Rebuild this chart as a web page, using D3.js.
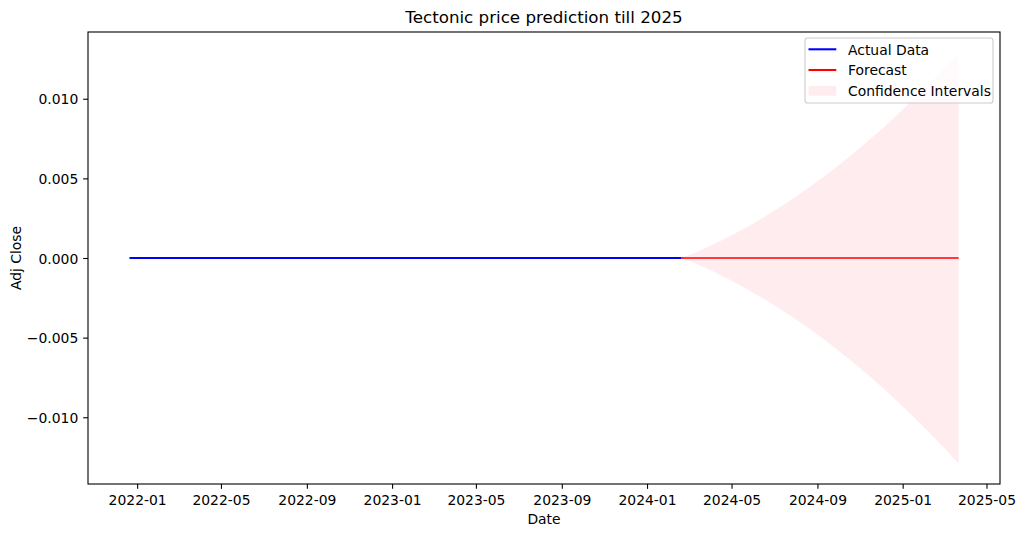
<!DOCTYPE html>
<html>
<head>
<meta charset="utf-8">
<script src="https://cdn.jsdelivr.net/npm/d3@7"></script>
<style>
  html, body { margin: 0; padding: 0; background: #fff; }
  svg { display: block; font-family: "DejaVu Sans", sans-serif; }
</style>
</head>
<body>
<svg id="chart" width="1024" height="536"></svg>
<script>
// ---- data ----
const actualDates = ["2021-12-21", "2022-03-01", "2022-06-01", "2022-09-01", "2022-12-01",
  "2023-03-01", "2023-06-01", "2023-09-01", "2023-12-01", "2024-02-19"];
const actualValues = [0, 0, 0, 0, 0, 0, 0, 0, 0, 0];

const forecastDates = ["2024-02-19", "2024-03-19", "2024-04-19", "2024-05-19", "2024-06-19",
  "2024-07-19", "2024-08-19", "2024-09-19", "2024-10-19", "2024-11-19", "2024-12-19",
  "2025-01-19", "2025-02-19", "2025-03-22"];
const forecastValues = [0, 0, 0, 0, 0, 0, 0, 0, 0, 0, 0, 0, 0, 0];
const upperBound = [0, 0.00051, 0.00116, 0.00185, 0.00264, 0.00347, 0.0044, 0.0054,
  0.00645, 0.00759, 0.00878, 0.01008, 0.01145, 0.0129];
const lowerBound = [0, -0.00051, -0.00116, -0.00185, -0.00264, -0.00347, -0.0044, -0.0054,
  -0.00645, -0.00759, -0.00878, -0.01008, -0.01145, -0.0129];

const xTickLabels = ["2022-01", "2022-05", "2022-09", "2023-01", "2023-05", "2023-09",
  "2024-01", "2024-05", "2024-09", "2025-01", "2025-05"];
const yTicks = [-0.010, -0.005, 0.000, 0.005, 0.010];

const titleText = "Tectonic price prediction till 2025";
const xLabel = "Date";
const yLabel = "Adj Close";
const legendLabels = ["Actual Data", "Forecast", "Confidence Intervals"];

// ---- layout ----
const svg = d3.select("#chart");
const m = { left: 88, right: 1000, top: 32, bottom: 484 };
const parse = d3.utcParse("%Y-%m-%d");
const parseM = d3.utcParse("%Y-%m");

const actual = actualDates.map((d, i) => ({ date: parse(d), v: actualValues[i] }));
const forecast = forecastDates.map((d, i) => ({
  date: parse(d), v: forecastValues[i], lo: lowerBound[i], hi: upperBound[i]
}));

const allDates = actual.map(d => d.date).concat(forecast.map(d => d.date));
const [x0, x1] = d3.extent(allDates);
const xpad = (x1 - x0) * 0.05;
const x = d3.scaleUtc()
  .domain([new Date(+x0 - xpad), new Date(+x1 + xpad)])
  .range([m.left, m.right]);

const yMin = d3.min(lowerBound.concat(actualValues, forecastValues));
const yMax = d3.max(upperBound.concat(actualValues, forecastValues));
const ypad = (yMax - yMin) * 0.05;
const y = d3.scaleLinear()
  .domain([yMin - ypad, yMax + ypad])
  .range([m.bottom, m.top]);

const fontSize = 13.9;

// ---- marks ----
const line = d3.line().x(d => x(d.date)).y(d => y(d.v));

const plot = svg.append("g");
plot.append("path").datum(actual)
  .attr("d", line).attr("fill", "none")
  .attr("stroke", "#0000ff").attr("stroke-width", 2.08);
plot.append("path").datum(forecast)
  .attr("d", line).attr("fill", "none")
  .attr("stroke", "#ff0000").attr("stroke-width", 2.08);

const area = d3.area().curve(d3.curveMonotoneX)
  .x(d => x(d.date)).y0(d => y(d.lo)).y1(d => y(d.hi));
plot.append("path").datum(forecast)
  .attr("d", area).attr("fill", "pink").attr("fill-opacity", 0.3);

// ---- axes ----
const xAxis = d3.axisBottom(x)
  .tickValues(xTickLabels.map(parseM))
  .tickFormat(d3.utcFormat("%Y-%m"))
  .tickSizeInner(4.86).tickSizeOuter(0).tickPadding(4.9);
const gx = svg.append("g").attr("transform", `translate(0,${m.bottom})`).call(xAxis);

const yFmt = v => d3.format(".3f")(v).replace("-", "\u2212");
const yAxis = d3.axisLeft(y)
  .tickValues(yTicks)
  .tickFormat(yFmt)
  .tickSizeInner(4.86).tickSizeOuter(0).tickPadding(4.9);
const gy = svg.append("g").attr("transform", `translate(${m.left},0)`).call(yAxis);

[gx, gy].forEach(g => {
  g.select(".domain").remove();
  g.selectAll(".tick line").attr("stroke", "#000").attr("stroke-width", 1.1);
  g.selectAll(".tick text").attr("fill", "#000")
    .style("font-family", "DejaVu Sans").style("font-size", fontSize + "px");
});
gx.selectAll(".tick text").attr("dy", null).attr("y", 0)
  .attr("transform", "translate(0,20.6)");
gy.selectAll(".tick text").attr("dy", "0.36em");

// frame
svg.append("rect")
  .attr("x", m.left).attr("y", m.top)
  .attr("width", m.right - m.left).attr("height", m.bottom - m.top)
  .attr("fill", "none").attr("stroke", "#000").attr("stroke-width", 1.1);

// ---- labels ----
svg.append("text")
  .attr("x", (m.left + m.right) / 2).attr("y", 22.7)
  .attr("text-anchor", "middle")
  .style("font-size", "16.7px").attr("fill", "#000")
  .text(titleText);

svg.append("text")
  .attr("x", (m.left + m.right) / 2).attr("y", 524)
  .attr("text-anchor", "middle")
  .style("font-size", fontSize + "px").attr("fill", "#000")
  .text(xLabel);

svg.append("text")
  .attr("transform", `translate(20.5,${(m.top + m.bottom) / 2}) rotate(-90)`)
  .attr("text-anchor", "middle")
  .style("font-size", fontSize + "px").attr("fill", "#000")
  .text(yLabel);

// ---- legend ----
const lg = svg.append("g");
lg.append("rect")
  .attr("x", 805).attr("y", 38).attr("width", 188).attr("height", 65)
  .attr("rx", 2.8).attr("ry", 2.8)
  .attr("fill", "#fff").attr("fill-opacity", 0.8)
  .attr("stroke", "#cccccc").attr("stroke-width", 1.1);

const rows = [
  { type: "line", color: "#0000ff", cy: 49.3 },
  { type: "line", color: "#ff0000", cy: 70 },
  { type: "patch", color: "pink", cy: 90.8 }
];
rows.forEach((r, i) => {
  if (r.type === "line") {
    lg.append("line").attr("x1", 808.5).attr("x2", 836.3)
      .attr("y1", r.cy).attr("y2", r.cy)
      .attr("stroke", r.color).attr("stroke-width", 2.08);
  } else {
    lg.append("rect").attr("x", 808.5).attr("y", r.cy - 4.85)
      .attr("width", 27.8).attr("height", 9.7)
      .attr("fill", r.color).attr("fill-opacity", 0.3);
  }
  lg.append("text").attr("x", 848).attr("y", r.cy + 5.2)
    .style("font-size", fontSize + "px").attr("fill", "#000")
    .text(legendLabels[i]);
});
</script>
</body>
</html>
